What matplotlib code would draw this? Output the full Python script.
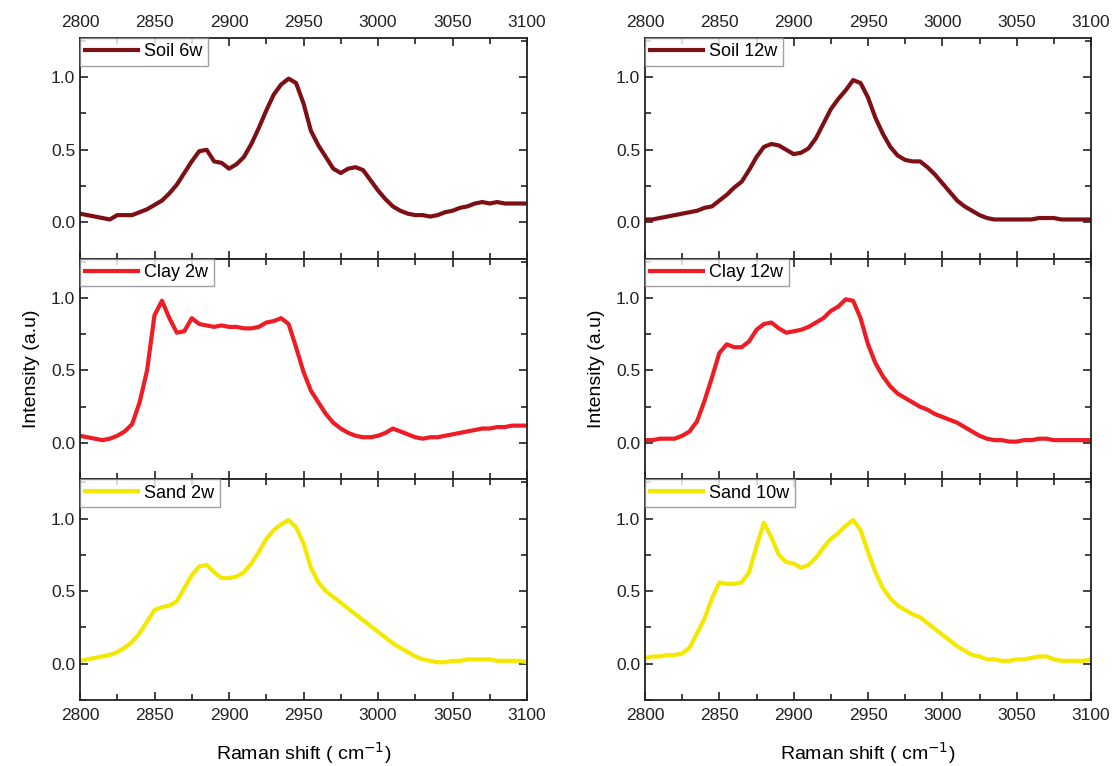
import numpy as np
import matplotlib.pyplot as plt
from matplotlib.ticker import MultipleLocator

plt.rcParams['font.family'] = ['Liberation Sans', 'DejaVu Sans']

# Raman shift grid (cm-1), read every 5 cm-1
shift = np.arange(2800, 3101, 5)

soil_6w = [0.06, 0.05, 0.04, 0.03, 0.02, 0.05, 0.05, 0.05, 0.07, 0.09,
           0.12, 0.15, 0.20, 0.26, 0.34, 0.42, 0.49, 0.50, 0.42, 0.41,
           0.37, 0.40, 0.45, 0.54, 0.65, 0.77, 0.88, 0.95, 0.99, 0.96,
           0.82, 0.63, 0.53, 0.45, 0.37, 0.34, 0.37, 0.38, 0.36, 0.29,
           0.22, 0.16, 0.11, 0.08, 0.06, 0.05, 0.05, 0.04, 0.05, 0.07,
           0.08, 0.10, 0.11, 0.13, 0.14, 0.13, 0.14, 0.13, 0.13, 0.13, 0.13]

clay_2w = [0.05, 0.04, 0.03, 0.02, 0.03, 0.05, 0.08, 0.13, 0.28, 0.50,
           0.88, 0.98, 0.86, 0.76, 0.77, 0.86, 0.82, 0.81, 0.80, 0.81,
           0.80, 0.80, 0.79, 0.79, 0.80, 0.83, 0.84, 0.86, 0.82, 0.66,
           0.49, 0.36, 0.28, 0.20, 0.14, 0.10, 0.07, 0.05, 0.04, 0.04,
           0.05, 0.07, 0.10, 0.08, 0.06, 0.04, 0.03, 0.04, 0.04, 0.05,
           0.06, 0.07, 0.08, 0.09, 0.10, 0.10, 0.11, 0.11, 0.12, 0.12, 0.12]

sand_2w = [0.02, 0.03, 0.04, 0.05, 0.06, 0.08, 0.11, 0.15, 0.21, 0.29,
           0.37, 0.39, 0.40, 0.43, 0.52, 0.61, 0.67, 0.68, 0.63, 0.59,
           0.59, 0.60, 0.63, 0.69, 0.77, 0.86, 0.92, 0.96, 0.99, 0.94,
           0.83, 0.66, 0.56, 0.50, 0.46, 0.42, 0.38, 0.34, 0.30, 0.26,
           0.22, 0.18, 0.14, 0.11, 0.08, 0.05, 0.03, 0.02, 0.01, 0.01,
           0.02, 0.02, 0.03, 0.03, 0.03, 0.03, 0.02, 0.02, 0.02, 0.02, 0.01]

soil_12w = [0.02, 0.02, 0.03, 0.04, 0.05, 0.06, 0.07, 0.08, 0.10, 0.11,
            0.15, 0.19, 0.24, 0.28, 0.36, 0.45, 0.52, 0.54, 0.53, 0.50,
            0.47, 0.48, 0.51, 0.58, 0.68, 0.78, 0.85, 0.91, 0.98, 0.96,
            0.86, 0.72, 0.61, 0.52, 0.46, 0.43, 0.42, 0.42, 0.38, 0.33,
            0.27, 0.21, 0.15, 0.11, 0.08, 0.05, 0.03, 0.02, 0.02, 0.02,
            0.02, 0.02, 0.02, 0.03, 0.03, 0.03, 0.02, 0.02, 0.02, 0.02, 0.02]

clay_12w = [0.02, 0.02, 0.03, 0.03, 0.03, 0.05, 0.08, 0.15, 0.29, 0.45,
            0.62, 0.68, 0.66, 0.66, 0.70, 0.78, 0.82, 0.83, 0.79, 0.76,
            0.77, 0.78, 0.80, 0.83, 0.86, 0.91, 0.94, 0.99, 0.98, 0.86,
            0.68, 0.55, 0.46, 0.39, 0.34, 0.31, 0.28, 0.25, 0.23, 0.20,
            0.18, 0.16, 0.14, 0.11, 0.08, 0.05, 0.03, 0.02, 0.02, 0.01,
            0.01, 0.02, 0.02, 0.03, 0.03, 0.02, 0.02, 0.02, 0.02, 0.02, 0.02]

sand_10w = [0.04, 0.05, 0.05, 0.06, 0.06, 0.07, 0.11, 0.21, 0.31, 0.45,
            0.56, 0.55, 0.55, 0.56, 0.63, 0.81, 0.97, 0.87, 0.75, 0.70,
            0.69, 0.66, 0.68, 0.73, 0.80, 0.86, 0.90, 0.95, 0.99, 0.92,
            0.77, 0.63, 0.52, 0.45, 0.40, 0.37, 0.34, 0.32, 0.28, 0.24,
            0.20, 0.16, 0.12, 0.09, 0.06, 0.05, 0.03, 0.03, 0.02, 0.02,
            0.03, 0.03, 0.04, 0.05, 0.05, 0.03, 0.02, 0.02, 0.02, 0.02, 0.03]

left_series = [("Soil 6w", soil_6w), ("Clay 2w", clay_2w), ("Sand 2w", sand_2w)]
right_series = [("Soil 12w", soil_12w), ("Clay 12w", clay_12w), ("Sand 10w", sand_10w)]
colors = ["#7d1014", "#ee1c25", "#f5e800"]

fig = plt.figure(figsize=(11.13, 7.66), dpi=100)
top, bottom = 1 - 38 / 766, 1 - 700 / 766
ph = (top - bottom) / 3
columns = [(80 / 1113, 447 / 1113, left_series), (645 / 1113, 446 / 1113, right_series)]

for left, width, series in columns:
    for i, (name, vals) in enumerate(series):
        ax = fig.add_axes([left, top - (i + 1) * ph, width, ph])
        ax.plot(shift, vals, color=colors[i], lw=3.0, label=name)
        ax.set_xlim(2800, 3100)
        ax.set_ylim(-0.25, 1.27)
        ax.xaxis.set_major_locator(MultipleLocator(50))
        ax.xaxis.set_minor_locator(MultipleLocator(25))
        ax.yaxis.set_major_locator(MultipleLocator(0.5))
        ax.yaxis.set_minor_locator(MultipleLocator(0.25))
        ax.tick_params(which='both', direction='in', top=True, right=True,
                       labelsize=12.5, colors='#222222', labelcolor='#222222')
        ax.tick_params(which='major', length=6, width=1.2)
        ax.tick_params(which='minor', length=4, width=1.2)
        ax.tick_params(axis='x', labelbottom=(i == 2), labeltop=(i == 0), pad=6)
        for s in ax.spines.values():
            s.set_linewidth(1.3)
            s.set_color('#222222')
        leg = ax.legend(loc='upper left', borderaxespad=0, fancybox=False,
                        fontsize=13, handlelength=2.9, borderpad=0.3,
                        handletextpad=0.35)
        leg.get_frame().set_edgecolor('#888888')
        leg.get_frame().set_linewidth(1.0)
        if i == 1:
            ax.set_ylabel("Intensity (a.u)", fontsize=14, labelpad=8)
        if i == 2:
            ax.set_xlabel("Raman shift ( cm$^{-1}$)", fontsize=14, labelpad=12)

fig.savefig("out.png", dpi=100)
